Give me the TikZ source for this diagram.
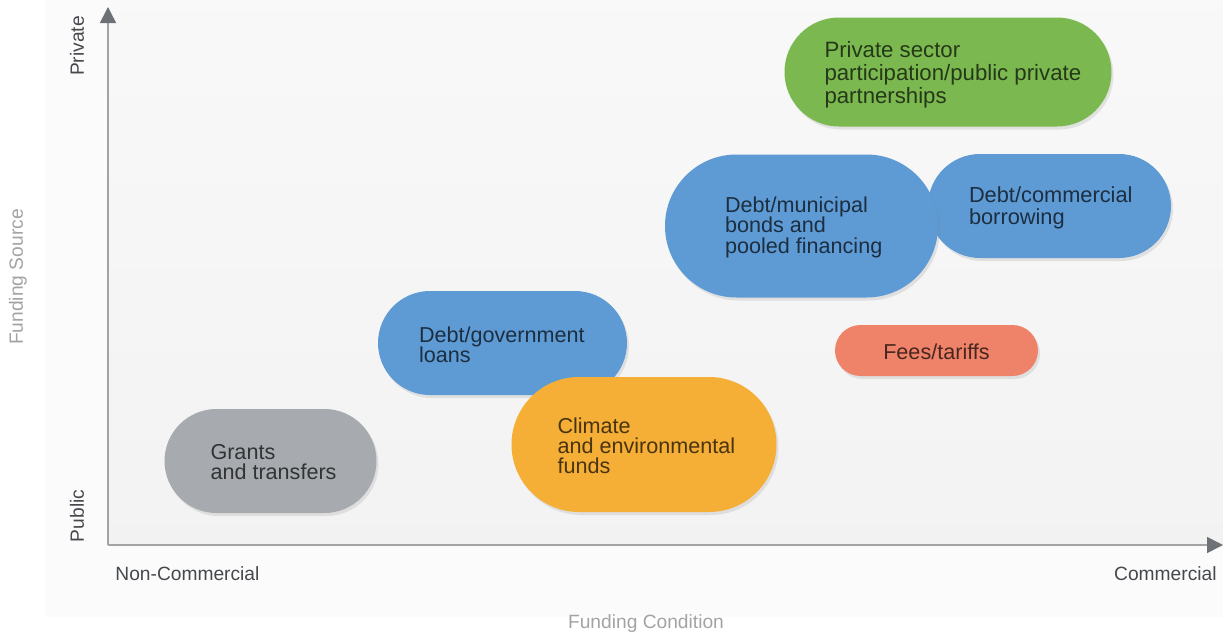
\documentclass[tikz,border=0pt]{standalone}
\usepackage{fontspec}
\setmainfont{Liberation Sans}
\usetikzlibrary{shapes.misc,shadows,arrows.meta,positioning}

\definecolor{pppgreen}{HTML}{7BB950}
\definecolor{debtblue}{HTML}{5E9BD5}
\definecolor{fundorange}{HTML}{F5AE36}
\definecolor{feered}{HTML}{EF836A}
\definecolor{grantgray}{HTML}{A7AAAE}
\definecolor{axisgray}{HTML}{A3A3A3}
\definecolor{tipgray}{HTML}{6E7277}
\definecolor{labeldark}{HTML}{45484C}
\definecolor{labellight}{HTML}{A3A3A3}

\tikzset{
	pill/.style={rounded rectangle, inner sep=0pt,
		drop shadow={opacity=0.18, shadow xshift=1pt, shadow yshift=-1.5pt}},
	pilltext/.style={inner sep=0pt, align=left, yshift=-0.7pt, font=\fontsize{10.8}{10.1}\selectfont},
	axislabel/.style={inner sep=0pt, text=labeldark, font=\fontsize{9.6}{11}\selectfont},
	titlelabel/.style={inner sep=0pt, text=labellight, font=\fontsize{9.6}{11}\selectfont},
}

\begin{document}
\begin{tikzpicture}[x=0.5pt, y=-0.5pt]
	\useasboundingbox (0,0) rectangle (1223,637);
	% backdrop
	\fill[white!98.5!black] (45,0) rectangle (1223,617);
	\shade[top color=white!97.5!black, bottom color=white!95!black] (108,0) rectangle (1223,545);
	
	% axes
	\coordinate (origin) at (108,545);
	\coordinate (ytip) at (108,7);
	\coordinate (xtip) at (1223,545);
	\draw[axisgray, line width=0.75pt, -{Triangle[width=8pt, length=8pt, color=tipgray]}] (origin) -- (ytip);
	\draw[axisgray, line width=0.75pt, -{Triangle[width=8pt, length=8pt, color=tipgray]}] (origin) -- (xtip);
	
	\node[axislabel, rotate=90] (private) at (77,46) {Private};
	\node[axislabel, rotate=90] (public) at (77,516) {Public};
	\node[titlelabel, rotate=90] (source) at (18,277) {Funding Source};
	\node[axislabel, anchor=west] (noncomm) at (115,574) {Non-Commercial};
	\node[axislabel, anchor=east] (comm) at (1217,574) {Commercial};
	\node[titlelabel] (condition) at (646,624) {Funding Condition};
	
	% funding pills
	\node[pill, fill=pppgreen, minimum width=163.5pt, minimum height=54.5pt] (ppp) at (948,72) {};
	\node[pilltext, text=black!70!pppgreen, font=\fontsize{11.1}{11.5}\selectfont, yshift=-0.8pt, right=20pt of ppp.west] (ppp-text)
		{Private sector\\participation/public private\\partnerships};
	
	\node[pill, fill=debtblue, minimum width=121.5pt, minimum height=52pt] (borrow) at (1049.5,206) {};
	\node[pilltext, text=black!70!debtblue, font=\fontsize{10.9}{11}\selectfont, right=20.5pt of borrow.west] (borrow-text)
		{Debt/commercial\\borrowing};
	
	\node[pill, fill=debtblue, minimum width=136.5pt, minimum height=71.5pt] (bonds) at (801.5,226) {};
	\node[pilltext, text=black!70!debtblue, right=30pt of bonds.west] (bonds-text)
		{Debt/municipal\\bonds and\\pooled financing};
	
	\node[pill, fill=debtblue, minimum width=124.5pt, minimum height=52pt] (loans) at (502.5,343) {};
	\node[pilltext, text=black!70!debtblue, right=20.5pt of loans.west] (loans-text)
		{Debt/government\\loans};
	
	\node[pill, fill=fundorange, minimum width=132.5pt, minimum height=67.5pt] (climate) at (644,444.5) {};
	\node[pilltext, text=black!70!fundorange, right=23pt of climate.west] (climate-text)
		{Climate\\and environmental\\funds};
	
	\node[pill, fill=feered, minimum width=101.5pt, minimum height=25.5pt] (fees) at (936.5,350.5) {};
	\node[pilltext, text=black!70!feered] (fees-text) at (fees) {Fees/tariffs};
	
	\node[pill, fill=grantgray, minimum width=106pt, minimum height=52pt] (grants) at (270.5,461) {};
	\node[pilltext, text=black!70!grantgray, right=23pt of grants.west] (grants-text)
		{Grants\\and transfers};
\end{tikzpicture}
\end{document}
